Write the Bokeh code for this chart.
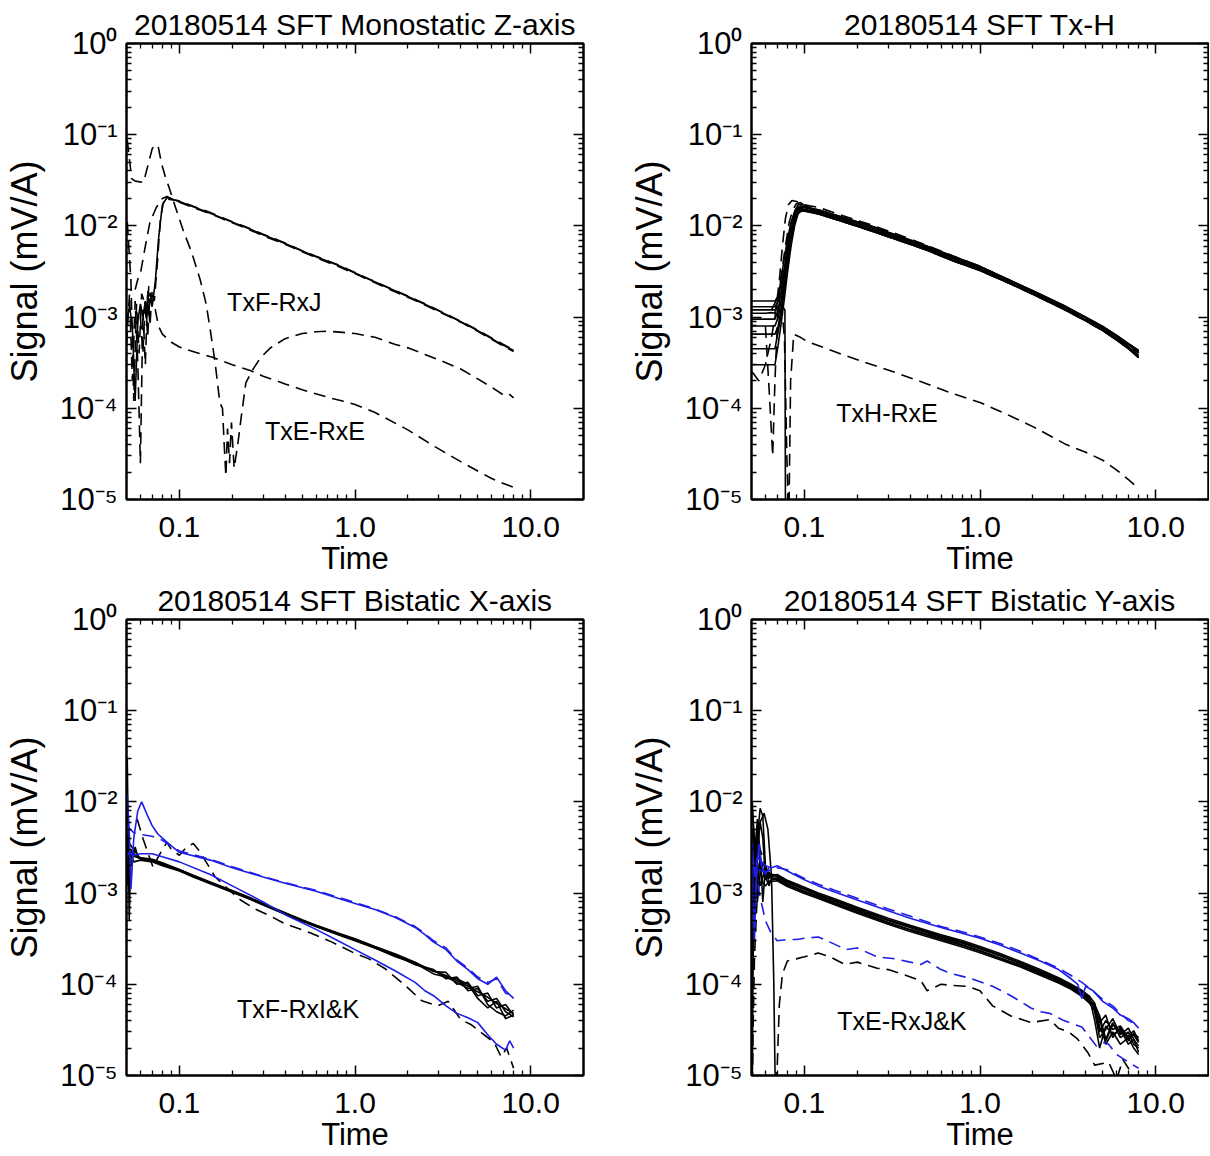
from bokeh.plotting import figure
from bokeh.models import (FixedTicker, LogAxis, NumeralTickFormatter,
                          CustomJSTickFormatter, Range1d)
from bokeh.layouts import row, column
from bokeh.embed import file_html
from bokeh.resources import INLINE
from bokeh.core.properties import value

FONT = "Liberation Sans"
BLUE = "#1e1ee6"
DASH = "12 7"

# ---------------- axes ----------------
X_MAJOR = [0.1, 1.0, 10.0]
X_MINOR = [0.06, 0.07, 0.08, 0.09, 0.2, 0.3, 0.4, 0.5, 0.6, 0.7, 0.8, 0.9,
           2, 3, 4, 5, 6, 7, 8, 9]
Y_MAJOR = [1.0, 1e-1, 1e-2, 1e-3, 1e-4, 1e-5]
Y_MINOR = [m * 10.0 ** e for e in range(-5, 0) for m in range(2, 10)]

TITLES = ["20180514 SFT Monostatic Z-axis", "20180514 SFT Tx-H",
          "20180514 SFT Bistatic X-axis", "20180514 SFT Bistatic Y-axis"]

# ---------------- panel 1: Monostatic Z-axis ----------------
tl_solid_t = [0.050, 0.052, 0.054, 0.056, 0.058, 0.060, 0.062, 0.064, 0.066, 0.068, 0.070, 0.073, 0.076, 0.080, 0.085,
              0.10, 0.12, 0.15, 0.20, 0.25, 0.30, 0.40, 0.50, 0.60, 0.80, 1.0, 1.2, 1.5, 2.0, 2.5, 3.0, 4.0, 5.0, 6.0, 7.0, 8.0]
tl_solid_y = [9e-4, 1.3e-3, 8e-4, 1.2e-4, 9e-4, 1.4e-3, 1.0e-3, 1.5e-3, 1.1e-3, 1.6e-3, 1.3e-3, 2.5e-3, 7e-3, 1.7e-2, 2.05e-2,
              1.85e-2, 1.62e-2, 1.38e-2, 1.10e-2, 9.3e-3, 8.0e-3, 6.4e-3, 5.3e-3, 4.6e-3, 3.7e-3, 3.05e-3, 2.6e-3, 2.15e-3,
              1.68e-3, 1.38e-3, 1.17e-3, 8.9e-4, 7.1e-4, 5.8e-4, 4.9e-4, 4.3e-4]
tl_dash1_t = [0.056, 0.058, 0.060, 0.064, 0.068, 0.074, 0.080, 0.085,
              0.10, 0.12, 0.15, 0.20, 0.25, 0.30, 0.40, 0.50, 0.60, 0.80, 1.0, 1.2, 1.5, 2.0, 2.5, 3.0, 4.0, 5.0, 6.0, 7.0, 8.0]
tl_dash1_y = [2e-3, 2.6e-3, 3e-3, 6e-3, 1.1e-2, 1.6e-2, 2.0e-2, 2.1e-2,
              1.82e-2, 1.58e-2, 1.36e-2, 1.08e-2, 9.1e-3, 7.8e-3, 6.3e-3, 5.2e-3, 4.5e-3, 3.6e-3, 3.0e-3, 2.55e-3,
              2.1e-3, 1.65e-3, 1.36e-3, 1.15e-3, 8.8e-4, 7.0e-4, 5.7e-4, 4.8e-4, 4.2e-4]
tl_dash2_t = [0.050, 0.052, 0.054, 0.056, 0.058, 0.060, 0.062, 0.064, 0.066, 0.068, 0.070, 0.072, 0.075, 0.078, 0.082,
              0.10, 0.12, 0.15, 0.20, 0.25, 0.30, 0.40, 0.50, 0.60, 0.80, 1.0, 1.2, 1.5, 2.0, 2.5, 3.0, 4.0, 5.0, 6.0, 7.0, 8.0]
tl_dash2_y = [5e-4, 1.8e-3, 2e-4, 1.5e-3, 3e-4, 2.5e-5, 1.2e-3, 3e-4, 2e-3, 8e-4, 2e-3, 1.5e-3, 4e-3, 1.2e-2, 2e-2,
              1.88e-2, 1.64e-2, 1.40e-2, 1.11e-2, 9.4e-3, 8.1e-3, 6.5e-3, 5.35e-3, 4.65e-3, 3.75e-3, 3.08e-3, 2.62e-3,
              2.17e-3, 1.70e-3, 1.40e-3, 1.18e-3, 9.0e-4, 7.2e-4, 5.9e-4, 5.0e-4, 4.4e-4]
tl_big_t = [0.0505, 0.0535, 0.056, 0.0625, 0.066, 0.070, 0.073, 0.076, 0.079, 0.083, 0.087, 0.095, 0.105, 0.118, 0.1315,
            0.142, 0.150, 0.160, 0.170, 0.176, 0.180, 0.184, 0.188, 0.193, 0.198, 0.205, 0.215, 0.225, 0.239, 0.26,
            0.29, 0.33, 0.40, 0.50, 0.60, 0.70, 0.85, 1.0, 1.3, 1.7, 2.0, 2.5, 3.0, 3.5, 4.0, 5.0, 6.0, 7.0, 7.5, 8.0]
tl_big_y = [8.7e-2, 3.3e-2, 3.1e-2, 3.0e-2, 4.5e-2, 7.0e-2, 7.8e-2, 7.2e-2, 4.9e-2, 3.5e-2, 2.7e-2, 1.6e-2, 9e-3, 5e-3,
            2.55e-3, 1.4e-3, 7.2e-4, 3.1e-4, 1.15e-4, 1.0e-4, 4e-5, 1.8e-5, 6e-5, 2.5e-5, 7e-5, 2.2e-5, 4e-5, 8e-5,
            1.9e-4, 2.6e-4, 3.6e-4, 4.6e-4, 5.8e-4, 6.6e-4, 6.9e-4, 7.0e-4, 6.8e-4, 6.6e-4, 6.0e-4, 5.0e-4, 4.6e-4,
            3.9e-4, 3.4e-4, 3.0e-4, 2.7e-4, 2.1e-4, 1.7e-4, 1.4e-4, 1.45e-4, 1.3e-4]
tl_low_t = [0.060, 0.062, 0.064, 0.066, 0.068, 0.070, 0.073, 0.076, 0.080, 0.090, 0.100, 0.110, 0.130, 0.156, 0.20,
            0.253, 0.30, 0.40, 0.50, 0.70, 0.85, 1.0, 1.3, 2.0, 2.85, 4.0, 5.0, 6.0, 7.0, 8.1]
tl_low_y = [1e-3, 4e-4, 1.6e-3, 6e-4, 1.8e-3, 1.5e-3, 1.2e-3, 8e-4, 6.5e-4, 5.3e-4, 4.7e-4, 4.4e-4, 4.0e-4, 3.6e-4, 3.0e-4,
            2.6e-4, 2.25e-4, 1.85e-4, 1.6e-4, 1.32e-4, 1.2e-4, 1.1e-4, 9e-5, 5.8e-5, 3.8e-5, 2.6e-5, 2.05e-5, 1.7e-5,
            1.5e-5, 1.35e-5]
tl_noise_t = [0.0505, 0.0515, 0.053, 0.055, 0.057, 0.059, 0.061, 0.063, 0.065, 0.067, 0.069]
tl_noise_y = [1.1e-2, 6e-3, 2.5e-3, 1.2e-4, 1.4e-3, 4e-4, 1.8e-3, 1.5e-3, 9e-4, 2.2e-3, 1.6e-3]

# ---------------- panel 2: Tx-H ----------------
tr_early_t = [0.050, 0.055, 0.060, 0.065, 0.068, 0.071, 0.074, 0.077, 0.080, 0.084, 0.088, 0.092, 0.096, 0.100]
tr_s1_early = [1.5e-3, 1.5e-3, 1.5e-3, 1.5e-3, 1.5e-3, 1.7e-3, 2.4e-3, 3.5e-3, 5.5e-3, 9e-3, 1.3e-2, 1.55e-2, 1.6e-2, 1.58e-2]
tr_s2_early = [1.3e-3, 1.3e-3, 1.3e-3, 1.3e-3, 1.3e-3, 1.5e-3, 1.9e-3, 3e-3, 5e-3, 8e-3, 1.2e-2, 1.5e-2, 1.62e-2, 1.6e-2]
tr_s3_early = [1.1e-3, 1.1e-3, 1.1e-3, 1.12e-3, 1.1e-3, 1.6e-3, 2.8e-3, 4.5e-3, 7e-3, 1.1e-2, 1.4e-2, 1.6e-2, 1.65e-2, 1.62e-2]
tr_s4_early = [9.5e-4, 9.5e-4, 9.5e-4, 9.5e-4, 9.5e-4, 1.2e-3, 2e-3, 3.2e-3, 6e-3, 1.05e-2, 1.45e-2, 1.7e-2, 1.72e-2, 1.68e-2]
tr_s5_early = [8e-4, 8e-4, 8e-4, 8e-4, 8e-4, 1.0e-3, 1.6e-3, 2.6e-3, 4.5e-3, 8.5e-3, 1.3e-2, 1.5e-2, 1.55e-2, 1.52e-2]
tr_s6_early = [6.5e-4, 6.5e-4, 6.5e-4, 6.5e-4, 6.5e-4, 8e-4, 1.3e-3, 2.2e-3, 4e-3, 7.5e-3, 1.2e-2, 1.45e-2, 1.5e-2, 1.5e-2]
tr_s7_early = [4.5e-4, 4.5e-4, 4.5e-4, 4.5e-4, 4.5e-4, 7e-4, 1.1e-3, 2e-3, 3.5e-3, 7e-3, 1.1e-2, 1.4e-2, 1.48e-2, 1.47e-2]
tr_s8_early = [3e-4, 3e-4, 3e-4, 3e-4, 3e-4, 5e-4, 9e-4, 1.6e-3, 3.0e-3, 6e-3, 1.0e-2, 1.35e-2, 1.45e-2, 1.45e-2]
tr_decay_t = [0.12, 0.15, 0.20, 0.25, 0.30, 0.40, 0.50, 0.70, 1.0, 1.5, 2.0, 3.0, 4.0, 5.0, 6.0, 7.0, 8.0]
tr_va = [1.45e-2, 1.27e-2, 1.07e-2, 9.3e-3, 8.2e-3, 6.8e-3, 5.8e-3, 4.5e-3, 3.5e-3, 2.45e-3, 1.9e-3, 1.3e-3, 9.8e-4, 7.7e-4, 6.1e-4, 5.0e-4, 4.1e-4]
tr_vb = [1.40e-2, 1.22e-2, 1.02e-2, 8.9e-3, 7.9e-3, 6.5e-3, 5.6e-3, 4.3e-3, 3.35e-3, 2.35e-3, 1.82e-3, 1.24e-3, 9.3e-4, 7.3e-4, 5.8e-4, 4.7e-4, 3.8e-4]
tr_vc = [1.50e-2, 1.32e-2, 1.11e-2, 9.7e-3, 8.5e-3, 7.0e-3, 6.0e-3, 4.65e-3, 3.6e-3, 2.5e-3, 1.95e-3, 1.34e-3, 1.0e-3, 7.9e-4, 6.3e-4, 5.1e-4, 4.3e-4]
tr_vd = [1.6e-2, 1.38e-2, 1.15e-2, 1.0e-2, 8.8e-3, 7.2e-3, 6.1e-3, 4.7e-3, 3.6e-3, 2.5e-3, 1.92e-3, 1.3e-3, 9.7e-4, 7.5e-4, 6.0e-4, 4.9e-4, 4.0e-4]
tr_ve = [1.35e-2, 1.18e-2, 9.9e-3, 8.6e-3, 7.6e-3, 6.3e-3, 5.4e-3, 4.15e-3, 3.25e-3, 2.3e-3, 1.78e-3, 1.22e-3, 9.1e-4, 7.1e-4, 5.6e-4, 4.5e-4, 3.6e-4]
tr_d1_t = [0.0505, 0.055, 0.060, 0.065, 0.068, 0.072, 0.075, 0.078, 0.081, 0.085, 0.090, 0.095, 0.100]
tr_d1_y = [2.5e-4, 2e-4, 3e-4, 6e-4, 1e-3, 2.5e-3, 6e-3, 1.2e-2, 1.7e-2, 1.9e-2, 1.85e-2, 1.78e-2, 1.7e-2]
tr_d2_t = [0.060, 0.063, 0.066, 0.068, 0.071, 0.074, 0.078, 0.082, 0.086, 0.090, 0.095, 0.100]
tr_d2_y = [8e-4, 1.6e-4, 3e-5, 2e-4, 1.5e-3, 3e-3, 6e-3, 1.1e-2, 1.5e-2, 1.75e-2, 1.8e-2, 1.7e-2]
tr_drop_t = [0.050, 0.060, 0.068, 0.073, 0.0775, 0.078, 0.0785]
tr_drop_y = [1.2e-3, 1.2e-3, 1.2e-3, 1.4e-3, 1.2e-3, 1e-5, 5e-6]
tr_rxe_t = [0.065, 0.070, 0.074, 0.077, 0.0795, 0.0815, 0.0835, 0.087, 0.095, 0.104, 0.13, 0.17, 0.22, 0.333, 0.5,
            0.7, 1.0, 1.5, 2.0, 3.1, 4.0, 5.0, 6.0, 7.0, 8.1]
tr_rxe_y = [1.2e-3, 1.6e-3, 1.4e-3, 6e-4, 3e-5, 5e-6, 2e-4, 6.5e-4, 6e-4, 5.4e-4, 4.6e-4, 3.8e-4, 3.2e-4, 2.45e-4, 1.85e-4,
            1.45e-4, 1.16e-4, 8.2e-5, 6.3e-5, 4.0e-5, 3.3e-5, 2.7e-5, 2.1e-5, 1.65e-5, 1.3e-5]

# ---------------- panel 3: Bistatic X-axis ----------------
bl_t = [0.06, 0.07, 0.08, 0.1, 0.12, 0.15, 0.2, 0.25, 0.3, 0.4, 0.5, 0.6, 0.8, 1.0, 1.3, 1.7, 2.2, 2.8, 3.3, 3.8,
        4.4, 5.0, 5.7, 6.4, 7.2, 8.0]
bl_b1_et = [0.0505, 0.0518, 0.053, 0.056]
bl_b1_ey = [3.0e-2, 5e-4, 3e-3, 2.6e-3]
bl_b1 = [2.4e-3, 2.3e-3, 2.1e-3, 1.8e-3, 1.55e-3, 1.3e-3, 1.05e-3, 8.8e-4, 7.6e-4, 6.0e-4, 5.0e-4, 4.4e-4, 3.6e-4,
         3.1e-4, 2.55e-4, 2.1e-4, 1.7e-4, 1.4e-4, 1.25e-4, 1.1e-4, 9.5e-5, 8.3e-5, 7.2e-5, 6.2e-5, 5.4e-5, 4.8e-5]
bl_b2_et = [0.050, 0.052, 0.055, 0.058]
bl_b2_ey = [4.5e-3, 3.5e-3, 3e-3, 2.6e-3]
bl_b2 = [2.35e-3, 2.25e-3, 2.05e-3, 1.78e-3, 1.52e-3, 1.28e-3, 1.03e-3, 8.7e-4, 7.5e-4, 5.9e-4, 4.95e-4, 4.3e-4, 3.55e-4,
         3.05e-4, 2.5e-4, 2.05e-4, 1.65e-4, 1.45e-4, 1.15e-4, 1.2e-4, 8.5e-5, 9e-5, 6.5e-5, 7e-5, 5e-5, 4.4e-5]
bl_b3_et = [0.050, 0.053, 0.056, 0.058]
bl_b3_ey = [3.5e-3, 2e-3, 3.2e-3, 2.5e-3]
bl_b3 = [2.45e-3, 2.35e-3, 2.15e-3, 1.82e-3, 1.57e-3, 1.32e-3, 1.07e-3, 9.0e-4, 7.7e-4, 6.1e-4, 5.1e-4, 4.45e-4, 3.65e-4,
         3.15e-4, 2.6e-4, 2.15e-4, 1.75e-4, 1.38e-4, 1.35e-4, 1.0e-4, 1.05e-4, 7.5e-5, 8e-5, 5.5e-5, 6e-5, 4.6e-5]
bl_b4_et = [0.050, 0.052, 0.055]
bl_b4_ey = [4e-3, 2.8e-3, 2.2e-3]
bl_b4 = [2.3e-3, 2.2e-3, 2.0e-3, 1.75e-3, 1.5e-3, 1.27e-3, 1.02e-3, 8.6e-4, 7.4e-4, 5.85e-4, 4.9e-4, 4.3e-4, 3.5e-4,
         3.0e-4, 2.5e-4, 2.0e-4, 1.7e-4, 1.3e-4, 1.2e-4, 1.05e-4, 9e-5, 9.5e-5, 6e-5, 5e-5, 4.5e-5, 5.2e-5]
bl_b5_et = [0.050, 0.051, 0.053, 0.056]
bl_b5_ey = [3e-3, 1.2e-3, 2.8e-3, 2.5e-3]
bl_b5 = [2.4e-3, 2.3e-3, 2.1e-3, 1.8e-3, 1.54e-3, 1.3e-3, 1.04e-3, 8.8e-4, 7.6e-4, 6.0e-4, 5.0e-4, 4.4e-4, 3.6e-4,
         3.1e-4, 2.55e-4, 2.1e-4, 1.65e-4, 1.42e-4, 1.2e-4, 1.15e-4, 1.0e-4, 7e-5, 5.5e-5, 6.5e-5, 4.2e-5, 4.6e-5]
bl_blue1_t = [0.0505, 0.0518, 0.053, 0.055, 0.058, 0.061, 0.065, 0.070, 0.075, 0.080, 0.090, 0.10, 0.15, 0.20, 0.30,
              0.40, 0.60, 0.80, 1.0, 1.3, 1.7, 2.2, 2.5, 2.8, 3.3, 3.8, 4.4, 5.0, 5.7, 6.4, 7.2, 8.0]
bl_blue1_y = [1.2e-2, 5e-3, 1.1e-3, 4e-3, 8e-3, 1.0e-2, 7.5e-3, 5.5e-3, 4.5e-3, 4.0e-3, 3.3e-3, 2.8e-3, 2.3e-3, 1.9e-3,
              1.5e-3, 1.28e-3, 1.05e-3, 8.8e-4, 7.7e-4, 6.6e-4, 5.4e-4, 4.2e-4, 3.5e-4, 2.9e-4, 2.4e-4, 1.8e-4,
              1.45e-4, 1.15e-4, 1.0e-4, 1.2e-4, 8.5e-5, 7.0e-5]
bl_blue2_t = [0.050, 0.055, 0.060, 0.070, 0.080, 0.090, 0.10, 0.15, 0.20, 0.30, 0.40, 0.60, 0.80, 1.0, 1.3, 1.7, 2.2,
              2.5, 2.8, 3.3, 3.8, 4.4, 5.0, 5.7, 6.4, 7.2, 8.0]
bl_blue2_y = [5.5e-3, 4.6e-3, 4.4e-3, 4.2e-3, 3.8e-3, 3.3e-3, 2.9e-3, 2.35e-3, 1.95e-3, 1.52e-3, 1.3e-3, 1.07e-3, 9e-4,
              7.9e-4, 6.7e-4, 5.5e-4, 4.3e-4, 3.6e-4, 3.0e-4, 2.5e-4, 1.85e-4, 1.5e-4, 1.2e-4, 1.05e-4, 1.15e-4,
              8e-5, 7.5e-5]
bl_blue3_t = [0.050, 0.052, 0.055, 0.060, 0.070, 0.080, 0.10, 0.15, 0.20, 0.30, 0.40, 0.60, 0.80, 1.0, 1.3, 1.7, 2.2,
              2.5, 2.8, 3.3, 3.8, 4.4, 5.0, 5.7, 6.4, 7.2, 7.6, 8.0]
bl_blue3_y = [2.5e-3, 2.8e-3, 2.6e-3, 2.7e-3, 2.7e-3, 2.5e-3, 2.2e-3, 1.6e-3, 1.2e-3, 8.0e-4, 5.8e-4, 4.0e-4, 3.0e-4,
              2.4e-4, 1.85e-4, 1.4e-4, 1.05e-4, 8.5e-5, 7.5e-5, 5.8e-5, 4.8e-5, 4.3e-5, 3.8e-5, 2.8e-5, 2.2e-5,
              1.9e-5, 2.4e-5, 2.0e-5]
bl_bdash_t = [0.0575, 0.062, 0.066, 0.071, 0.075, 0.080, 0.085, 0.090, 0.10, 0.11, 0.12, 0.13, 0.16, 0.19, 0.223,
              0.27, 0.33, 0.40, 0.55, 0.74, 0.99, 1.2, 1.47, 1.9, 2.4, 2.95, 3.4, 4.0, 4.6, 5.3, 6.2, 6.8, 7.3, 8.0]
bl_bdash_y = [6.5e-3, 4e-3, 2.8e-3, 1.9e-3, 2.4e-3, 3e-3, 3.6e-3, 3.0e-3, 2.6e-3, 3.2e-3, 3.5e-3, 2.9e-3, 1.5e-3,
              1.1e-3, 8.4e-4, 6.7e-4, 5.6e-4, 4.6e-4, 3.7e-4, 2.9e-4, 2.2e-4, 1.9e-4, 1.5e-4, 1.0e-4, 6.6e-5,
              5.8e-5, 6.5e-5, 4.1e-5, 3.6e-5, 2.9e-5, 2.3e-5, 1.6e-5, 2.0e-5, 1.2e-5]

# ---------------- panel 4: Bistatic Y-axis ----------------
br_early_t = [0.0505, 0.052, 0.054, 0.056, 0.058, 0.060, 0.063, 0.066]
br_t = [0.07, 0.08, 0.10, 0.12, 0.15, 0.20, 0.30, 0.40, 0.60, 0.80, 1.0, 1.3, 1.7, 2.2, 2.8, 3.3, 3.8, 4.2, 4.5,
        4.8, 5.2, 5.7, 6.3, 7.0, 7.5, 8.0]
br_k1_e = [5e-3, 2e-3, 4e-3, 8.5e-3, 7e-3, 2e-3, 1.6e-3, 1.5e-3]
br_k1 = [1.5e-3, 1.3e-3, 1.1e-3, 9.5e-4, 8.1e-4, 6.6e-4, 5.0e-4, 4.2e-4, 3.3e-4, 2.8e-4, 2.45e-4, 2.05e-4, 1.7e-4,
         1.38e-4, 1.12e-4, 9.6e-5, 8.2e-5, 7.0e-5, 5.5e-5, 3.0e-5, 4.0e-5, 3.2e-5, 3.5e-5, 2.6e-5, 2.8e-5, 2.3e-5]
br_k2_e = [1e-2, 3e-3, 1.2e-3, 2.5e-3, 1.8e-3, 1.4e-3, 1.7e-3, 1.4e-3]
br_k2 = [1.45e-3, 1.25e-3, 1.05e-3, 9.2e-4, 7.8e-4, 6.4e-4, 4.8e-4, 4.0e-4, 3.2e-4, 2.7e-4, 2.35e-4, 1.95e-4, 1.62e-4,
         1.32e-4, 1.08e-4, 9.2e-5, 7.8e-5, 6.6e-5, 6.0e-5, 4.5e-5, 2.5e-5, 3.8e-5, 2.6e-5, 3.0e-5, 2.2e-5, 2.0e-5]
br_k3_e = [1e-4, 6e-4, 3e-3, 6e-3, 4e-3, 1.5e-3, 1.2e-3, 1.6e-3]
br_k3 = [1.55e-3, 1.35e-3, 1.12e-3, 9.7e-4, 8.3e-4, 6.8e-4, 5.1e-4, 4.3e-4, 3.4e-4, 2.9e-4, 2.5e-4, 2.1e-4, 1.72e-4,
         1.4e-4, 1.15e-4, 9.8e-5, 8.5e-5, 7.2e-5, 4.0e-5, 2.0e-5, 3.5e-5, 2.8e-5, 3.2e-5, 2.2e-5, 2.5e-5, 1.8e-5]
br_k4_e = [3e-3, 1.5e-3, 8e-4, 1.6e-3, 2.2e-3, 1.8e-3, 1.3e-3, 1.45e-3]
br_k4 = [1.4e-3, 1.22e-3, 1.02e-3, 9.0e-4, 7.6e-4, 6.2e-4, 4.7e-4, 3.95e-4, 3.1e-4, 2.65e-4, 2.3e-4, 1.92e-4, 1.6e-4,
         1.3e-4, 1.06e-4, 9.0e-5, 7.6e-5, 6.3e-5, 5.8e-5, 3.8e-5, 4.6e-5, 2.6e-5, 3.4e-5, 2.4e-5, 2.9e-5, 2.6e-5]
br_k5_e = [2e-4, 1e-3, 5e-3, 3e-3, 8e-4, 1.9e-3, 1.5e-3, 1.6e-3]
br_k5 = [1.52e-3, 1.32e-3, 1.1e-3, 9.6e-4, 8.2e-4, 6.7e-4, 5.05e-4, 4.25e-4, 3.35e-4, 2.85e-4, 2.48e-4, 2.08e-4,
         1.68e-4, 1.36e-4, 1.1e-4, 9.4e-5, 8.0e-5, 6.8e-5, 5.0e-5, 2.6e-5, 3.2e-5, 4.2e-5, 2.8e-5, 3.3e-5, 2.5e-5, 2.1e-5]
br_k6_e = [8e-3, 4e-3, 2e-3, 1.2e-3, 1.5e-3, 1.7e-3, 1.45e-3, 1.55e-3]
br_k6 = [1.6e-3, 1.38e-3, 1.16e-3, 1.0e-3, 8.6e-4, 7.0e-4, 5.3e-4, 4.45e-4, 3.5e-4, 3.0e-4, 2.6e-4, 2.18e-4, 1.78e-4,
         1.45e-4, 1.18e-4, 1.0e-4, 8.6e-5, 7.4e-5, 6.2e-5, 3.4e-5, 2.4e-5, 3.6e-5, 3.0e-5, 2.7e-5, 3.1e-5, 2.4e-5]
br_k7_e = [6e-4, 2.5e-3, 6.5e-3, 2e-3, 1.3e-3, 1.2e-3, 1.35e-3, 1.35e-3]
br_k7 = [1.36e-3, 1.18e-3, 9.9e-4, 8.7e-4, 7.4e-4, 6.0e-4, 4.55e-4, 3.8e-4, 3.0e-4, 2.55e-4, 2.22e-4, 1.86e-4, 1.55e-4,
         1.26e-4, 1.03e-4, 8.8e-5, 7.4e-5, 6.2e-5, 5.2e-5, 4.2e-5, 2.2e-5, 3.0e-5, 2.2e-5, 2.6e-5, 2.0e-5, 1.7e-5]
br_drop_t = [0.0505, 0.053, 0.056, 0.059, 0.062, 0.065, 0.067, 0.068, 0.069]
br_drop_y = [1e-3, 2e-3, 6e-3, 7.5e-3, 5e-3, 1.5e-3, 1e-4, 1.2e-5, 5e-6]
br_edge_t = [0.0505, 0.051, 0.0515, 0.0525, 0.054]
br_edge_y = [5e-6, 2e-4, 1e-3, 2e-3, 1.5e-3]
br_blue1_t = [0.0505, 0.052, 0.054, 0.057, 0.060, 0.065, 0.070, 0.080, 0.10, 0.12, 0.15, 0.20, 0.30, 0.40, 0.60, 0.80,
              1.0, 1.3, 1.7, 2.2, 2.8, 3.3, 3.6, 3.8, 4.0, 4.4, 5.0, 5.7, 6.3, 7.0, 7.5, 8.0]
br_blue1_y = [3.5e-3, 1.5e-3, 2.5e-3, 2.2e-3, 2.0e-3, 1.9e-3, 2.0e-3, 1.75e-3, 1.4e-3, 1.2e-3, 1.02e-3, 8.4e-4, 6.4e-4,
              5.3e-4, 4.2e-4, 3.6e-4, 3.2e-4, 2.7e-4, 2.2e-4, 1.8e-4, 1.45e-4, 1.15e-4, 1.0e-4, 7e-5, 9.5e-5, 8.5e-5,
              6.5e-5, 5.5e-5, 4.6e-5, 4.2e-5, 3.8e-5, 3.3e-5]
br_blue2_t = [0.055, 0.060, 0.070, 0.080, 0.10, 0.12, 0.15, 0.20, 0.30, 0.40, 0.60, 0.80, 1.0, 1.3, 1.7, 2.2, 2.8,
              3.3, 3.8, 4.4, 5.0, 5.7, 6.3, 7.0, 8.0]
br_blue2_y = [1.8e-3, 1.7e-3, 1.9e-3, 1.8e-3, 1.45e-3, 1.25e-3, 1.07e-3, 8.8e-4, 6.7e-4, 5.6e-4, 4.3e-4, 3.75e-4, 3.3e-4,
              2.8e-4, 2.3e-4, 1.85e-4, 1.5e-4, 1.25e-4, 1.05e-4, 8.5e-5, 6.8e-5, 5.8e-5, 4.8e-5, 4.0e-5, 3.5e-5]
br_blue3_t = [0.0505, 0.051, 0.052, 0.053, 0.055, 0.057, 0.060, 0.063]
br_blue3_y = [2e-3, 8e-4, 3e-4, 1.2e-3, 3.5e-3, 2e-3, 1.6e-3, 1.9e-3]
br_bluelow_t = [0.052, 0.056, 0.060, 0.064, 0.070, 0.080, 0.090, 0.10, 0.12, 0.14, 0.173, 0.20, 0.26, 0.33, 0.40,
                0.46, 0.50, 0.60, 0.70, 0.90, 1.18, 1.5, 1.95, 2.2, 2.5, 3.0, 3.8, 4.3, 4.6, 5.0, 5.4, 6.0, 7.0, 8.0]
br_bluelow_y = [2e-3, 9e-4, 5e-4, 3.8e-4, 3.0e-4, 3.1e-4, 3.1e-4, 3.2e-4, 3.3e-4, 2.9e-4, 2.4e-4, 2.5e-4, 2.0e-4,
                1.9e-4, 1.75e-4, 1.65e-4, 1.8e-4, 1.45e-4, 1.3e-4, 1.15e-4, 9.5e-5, 7.5e-5, 5.5e-5, 5.0e-5, 4.8e-5,
                4.0e-5, 3.4e-5, 2.5e-5, 2.1e-5, 2.3e-5, 2.2e-5, 1.7e-5, 1.4e-5, 1.2e-5]
br_blacklow_t = [0.068, 0.070, 0.072, 0.075, 0.080, 0.090, 0.10, 0.12, 0.14, 0.17, 0.20, 0.26, 0.30, 0.38, 0.46,
                 0.50, 0.60, 0.70, 0.85, 1.0, 1.18, 1.5, 1.95, 2.5, 2.8, 3.2, 3.6, 4.1, 4.5, 5.4, 6.0, 6.5, 7.0, 7.5]
br_blacklow_y = [5e-6, 1.2e-5, 6e-5, 1.3e-4, 1.8e-4, 1.9e-4, 2.0e-4, 2.2e-4, 2.0e-4, 1.65e-4, 1.75e-4, 1.5e-4, 1.45e-4,
                 1.25e-4, 1.1e-4, 8.5e-5, 1.0e-4, 9.7e-5, 9.5e-5, 8.5e-5, 5.8e-5, 4.5e-5, 3.8e-5, 4.1e-5, 3.3e-5,
                 3.0e-5, 2.5e-5, 1.8e-5, 1.3e-5, 1.4e-5, 9e-6, 1.5e-5, 1.2e-5, 8e-6]
br_bdash_left_t = [0.0505, 0.051, 0.052, 0.054, 0.056, 0.058]
br_bdash_left_y = [5e-6, 3e-5, 2e-4, 1e-3, 3e-3, 2.5e-3]

# ---------------- in-plot notes ----------------
NOTE_TEXT = [["TxF-RxJ", "TxE-RxE"], ["TxH-RxE"], ["TxF-RxI&K"], ["TxE-RxJ&K"]]
NOTE_X = [[0.187, 0.307], [0.152], [0.213], [0.154]]
NOTE_Y = [[1.47e-3, 5.7e-5], [8.9e-5], [5.4e-5], [4.0e-5]]

# ---------------- series per panel ----------------
S1 = [(tl_solid_t, tl_solid_y, "black", False),
      (tl_dash1_t, tl_dash1_y, "black", True),
      (tl_dash2_t, tl_dash2_y, "black", True),
      (tl_big_t, tl_big_y, "black", True),
      (tl_low_t, tl_low_y, "black", True),
      (tl_noise_t, tl_noise_y, "black", True)]
S2 = [(tr_early_t + tr_decay_t, tr_s1_early + tr_vc, "black", False),
      (tr_early_t + tr_decay_t, tr_s2_early + tr_va, "black", False),
      (tr_early_t + tr_decay_t, tr_s3_early + tr_vc, "black", False),
      (tr_early_t + tr_decay_t, tr_s4_early + tr_va, "black", False),
      (tr_early_t + tr_decay_t, tr_s5_early + tr_vb, "black", False),
      (tr_early_t + tr_decay_t, tr_s6_early + tr_vb, "black", False),
      (tr_early_t + tr_decay_t, tr_s7_early + tr_ve, "black", False),
      (tr_early_t + tr_decay_t, tr_s8_early + tr_ve, "black", False),
      (tr_drop_t, tr_drop_y, "black", False),
      (tr_d1_t + tr_decay_t, tr_d1_y + tr_vd, "black", True),
      (tr_d2_t + tr_decay_t, tr_d2_y + tr_ve, "black", True),
      (tr_rxe_t, tr_rxe_y, "black", True)]
S3 = [(bl_b1_et + bl_t, bl_b1_ey + bl_b1, "black", False),
      (bl_b2_et + bl_t, bl_b2_ey + bl_b2, "black", False),
      (bl_b3_et + bl_t, bl_b3_ey + bl_b3, "black", False),
      (bl_b4_et + bl_t, bl_b4_ey + bl_b4, "black", False),
      (bl_b5_et + bl_t, bl_b5_ey + bl_b5, "black", False),
      (bl_bdash_t, bl_bdash_y, "black", True),
      (bl_blue3_t, bl_blue3_y, BLUE, False),
      (bl_blue2_t, bl_blue2_y, BLUE, True),
      (bl_blue1_t, bl_blue1_y, BLUE, False)]
S4 = [(br_early_t + br_t, br_k1_e + br_k1, "black", False),
      (br_early_t + br_t, br_k2_e + br_k2, "black", False),
      (br_early_t + br_t, br_k3_e + br_k3, "black", False),
      (br_early_t + br_t, br_k4_e + br_k4, "black", False),
      (br_early_t + br_t, br_k5_e + br_k5, "black", False),
      (br_early_t + br_t, br_k6_e + br_k6, "black", False),
      (br_early_t + br_t, br_k7_e + br_k7, "black", False),
      (br_drop_t, br_drop_y, "black", False),
      (br_edge_t, br_edge_y, "black", False),
      (br_bdash_left_t, br_bdash_left_y, "black", True),
      (br_blacklow_t, br_blacklow_y, "black", True),
      (br_bluelow_t, br_bluelow_y, BLUE, True),
      (br_blue3_t, br_blue3_y, BLUE, False),
      (br_blue2_t, br_blue2_y, BLUE, True),
      (br_blue1_t, br_blue1_y, BLUE, False)]

X_LO, X_HI = 0.05, 20.0
Y_LO, Y_HI = 1e-5, 1.0

POW10_JS = """
const e = Math.round(Math.log10(tick));
const sup = {"0": "\\u2070", "1": "\\u00b9", "2": "\\u00b2", "3": "\\u00b3",
             "4": "\\u2074", "5": "\\u2075", "-": "\\u207b"};
let s = "";
for (const c of String(e)) { s += sup[c]; }
return "10" + s;
"""


def style_axis(ax):
    ax.major_tick_in = 10
    ax.major_tick_out = 0
    ax.minor_tick_in = 5
    ax.minor_tick_out = 0
    ax.axis_line_width = 2
    ax.axis_line_color = "black"
    ax.major_tick_line_color = "black"
    ax.minor_tick_line_color = "black"
    ax.major_tick_line_width = 1.5
    ax.minor_tick_line_width = 1.3
    ax.major_label_text_color = "black"
    ax.axis_label_text_color = "black"


def blank_axis(ticker):
    ax = LogAxis(ticker=ticker, formatter=CustomJSTickFormatter(code="return ''"))
    style_axis(ax)
    ax.major_label_text_font_size = "0px"
    ax.major_label_standoff = 0
    return ax


def make_panel(idx, width, height, border_top, border_right, border_bottom):
    p = figure(width=width, height=height, x_axis_type="log", y_axis_type="log",
               x_range=Range1d(X_LO, X_HI), y_range=Range1d(Y_LO, Y_HI),
               output_backend="svg", toolbar_location=None,
               min_border_left=122, min_border_right=border_right,
               min_border_top=border_top, min_border_bottom=border_bottom,
               background_fill_color="white", border_fill_color="white")
    p.xgrid.visible = False
    p.ygrid.visible = False
    p.outline_line_color = "black"
    p.outline_line_width = 2

    p.title.text = TITLES[idx]
    p.title.text_font = FONT
    p.title.text_font_size = "30px"
    p.title.text_font_style = "normal"
    p.title.text_color = "black"
    p.title.align = "center"
    p.title.standoff = 5

    xt = FixedTicker(ticks=X_MAJOR, minor_ticks=X_MINOR)
    yt = FixedTicker(ticks=Y_MAJOR, minor_ticks=Y_MINOR)

    bx = p.below[0]
    bx.ticker = xt
    bx.formatter = NumeralTickFormatter(format="0.0")
    style_axis(bx)
    bx.major_label_text_font = FONT
    bx.major_label_text_font_size = "30px"
    bx.major_label_standoff = 17
    bx.axis_label = "Time"
    bx.axis_label_text_font = FONT
    bx.axis_label_text_font_size = "31px"
    bx.axis_label_text_font_style = "normal"
    bx.axis_label_standoff = 1

    ly = p.left[0]
    ly.ticker = yt
    ly.formatter = CustomJSTickFormatter(code=POW10_JS)
    style_axis(ly)
    ly.major_label_text_font = FONT
    ly.major_label_text_font_size = "31px"
    ly.major_label_standoff = 9
    ly.axis_label = "Signal (mV/A)"
    ly.axis_label_text_font = FONT
    ly.axis_label_text_font_size = "36px"
    ly.axis_label_text_font_style = "normal"
    ly.axis_label_standoff = 12

    p.add_layout(blank_axis(xt), "above")
    p.add_layout(blank_axis(yt), "right")

    series = [S1, S2, S3, S4][idx]
    for t, y, color, dashed in series:
        p.line(x=t, y=y, line_color=color, line_width=1.6,
               line_dash=DASH if dashed else "solid")

    p.text(x=NOTE_X[idx], y=NOTE_Y[idx], text=NOTE_TEXT[idx],
           text_font=value(FONT), text_font_size=value("25px"),
           text_align="left", text_baseline="middle", text_color="black")
    return p


p1 = make_panel(0, 625, 578, 43, 42, 78)
p2 = make_panel(1, 584, 578, 43, 1, 78)
p3 = make_panel(2, 625, 576, 41, 42, 78)
p4 = make_panel(3, 584, 576, 41, 1, 78)

layout = column(row(p1, p2), row(p3, p4))
open("out.html", "w").write(file_html(layout, INLINE, title="SFT signals"))
